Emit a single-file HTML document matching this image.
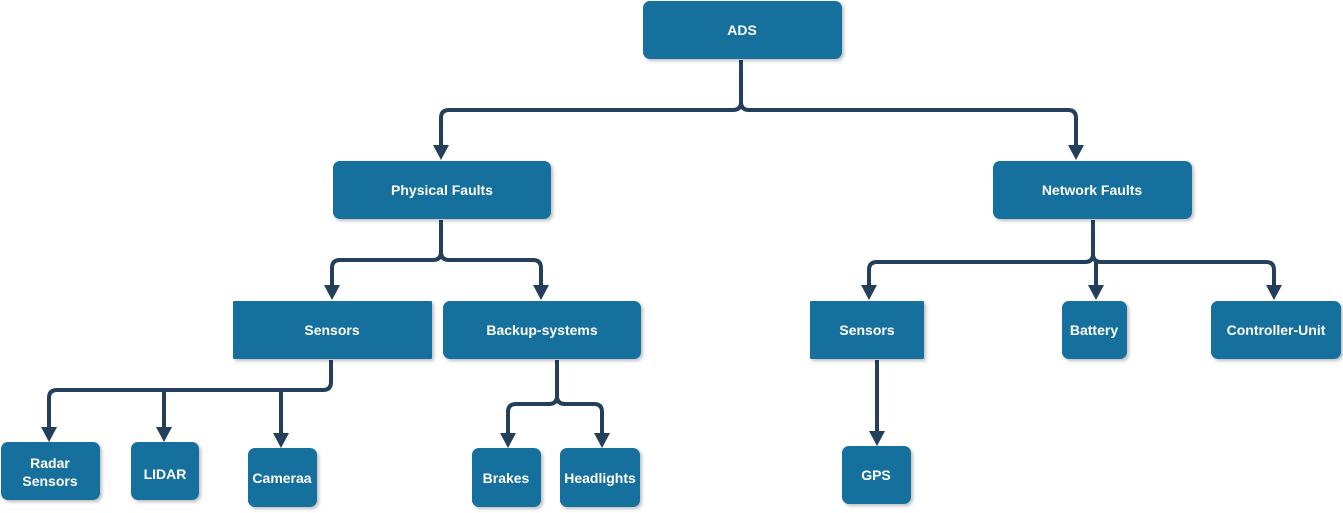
<!DOCTYPE html>
<html><head><meta charset="utf-8"><style>
html,body{margin:0;padding:0;background:#fff;width:1343px;height:513px;overflow:hidden}
svg text{font-family:"Liberation Sans",sans-serif;font-weight:bold;font-size:14px;fill:#fff;text-anchor:middle;dominant-baseline:central}
</style></head><body>
<svg width="1343" height="513" viewBox="0 0 1343 513" xmlns="http://www.w3.org/2000/svg">
<defs>
<filter id="sh" x="-10%" y="-10%" width="130%" height="130%"><feDropShadow dx="2" dy="2" stdDeviation="1.5" flood-color="#000" flood-opacity="0.25"/></filter>
</defs>
<g fill="none" stroke="#233f5c" stroke-width="4" stroke-linejoin="round">
<path d="M741,60 V102 Q741,110 733,110 H449 Q441,110 441,118 V146"/>
<path d="M741,102 Q741,110 749,110 H1068 Q1076,110 1076,118 V146"/>
<path d="M441,220 V252 Q441,260 433,260 H340 Q332,260 332,268 V286"/>
<path d="M441,252 Q441,260 449,260 H533 Q541,260 541,268 V286"/>
<path d="M331,360 V382 Q331,390 323,390 H57 Q49,390 49,398 V428"/>
<path d="M164,390 V428"/>
<path d="M281,390 V434"/>
<path d="M557,360 V396 Q557,404 549,404 H516 Q508,404 508,412 V434"/>
<path d="M557,396 Q557,404 565,404 H594 Q602,404 602,412 V434"/>
<path d="M1093,220 V254 Q1093,262 1085,262 H877 Q869,262 869,270 V286"/>
<path d="M1093,254 Q1093,262 1101,262 H1266 Q1274,262 1274,270 V286"/>
<path d="M1096,262 V286"/>
<path d="M877,360 V432"/>
</g>
<g fill="#233f5c">
<path d="M433,145 L449,145 L441,160 Z"/>
<path d="M1068,145 L1084,145 L1076,160 Z"/>
<path d="M324,285 L340,285 L332,300 Z"/>
<path d="M533,285 L549,285 L541,300 Z"/>
<path d="M41,427 L57,427 L49,442 Z"/>
<path d="M156,427 L172,427 L164,442 Z"/>
<path d="M273,433 L289,433 L281,448 Z"/>
<path d="M500,433 L516,433 L508,448 Z"/>
<path d="M594,433 L610,433 L602,448 Z"/>
<path d="M861,285 L877,285 L869,300 Z"/>
<path d="M1088,285 L1104,285 L1096,300 Z"/>
<path d="M1266,285 L1282,285 L1274,300 Z"/>
<path d="M869,431 L885,431 L877,446 Z"/>
</g>
<g fill="#14709e" filter="url(#sh)">
<rect x="643" y="1" width="199" height="58" rx="7"/>
<rect x="333" y="161" width="218" height="58" rx="7"/>
<rect x="993" y="161" width="199" height="58" rx="7"/>
<rect x="233" y="301" width="199" height="58" rx="1"/>
<rect x="443" y="301" width="198" height="58" rx="7"/>
<rect x="810" y="301" width="114" height="58" rx="1"/>
<rect x="1062" y="301" width="65" height="58" rx="7"/>
<rect x="1211" y="301" width="130" height="58" rx="7"/>
<rect x="1" y="442" width="99" height="58" rx="7"/>
<rect x="131" y="442" width="68" height="58" rx="7"/>
<rect x="248" y="448" width="69" height="59" rx="7"/>
<rect x="472" y="448" width="69" height="59" rx="7"/>
<rect x="560" y="448" width="80" height="59" rx="7"/>
<rect x="842" y="446" width="69" height="58" rx="7"/>
</g>
<text x="742" y="30">ADS</text>
<text x="442" y="190">Physical Faults</text>
<text x="1092" y="190">Network Faults</text>
<text x="332" y="330">Sensors</text>
<text x="542" y="330">Backup-systems</text>
<text x="867" y="330">Sensors</text>
<text x="1094" y="330">Battery</text>
<text x="1276" y="330">Controller-Unit</text>
<text x="50" y="463">Radar</text>
<text x="50" y="481">Sensors</text>
<text x="165" y="474">LIDAR</text>
<text x="282" y="478">Cameraa</text>
<text x="506" y="478">Brakes</text>
<text x="600" y="478">Headlights</text>
<text x="876" y="475">GPS</text>
</svg>
</body></html>
